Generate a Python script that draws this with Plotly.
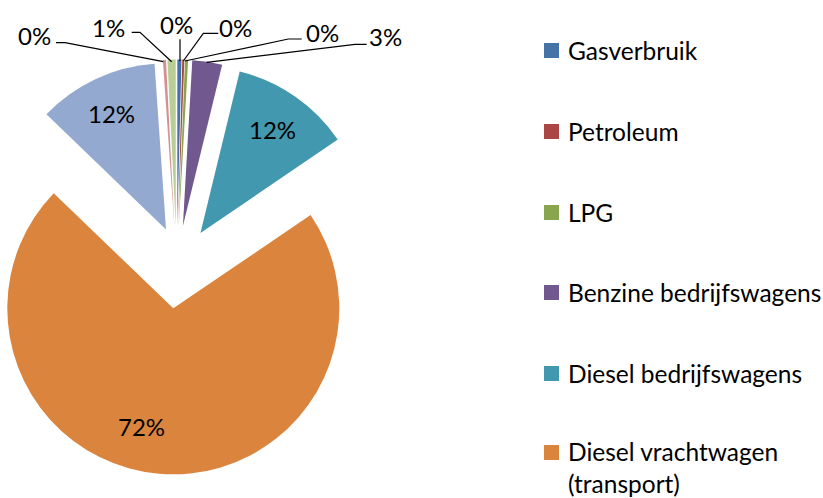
import math
import plotly.graph_objects as go

# ---- data ----
labels = ["Gasverbruik", "Petroleum", "LPG", "Benzine bedrijfswagens",
          "Diesel bedrijfswagens", "Diesel vrachtwagen (transport)",
          "Overig 1", "Overig 2", "Overig 3"]
values = [0.4, 0.2, 0.3, 2.9, 11.7, 71.7, 11.7, 0.3, 0.8]
colors = ["#4572A7", "#AA4643", "#89A54E", "#71588F", "#4198AF", "#DB843D",
          "#93A9CF", "#D19392", "#B9CD96"]
legend_labels = ["Gasverbruik", "Petroleum", "LPG", "Benzine bedrijfswagens",
                 "Diesel bedrijfswagens", "Diesel vrachtwagen<br>(transport)"]

# ---- layout constants (pixels) ----
W, H = 823, 498
R = 166.0          # pie radius
PULL = 41.5        # explosion distance
CX, CY = 176.8, 267.0
FONT = "Lato, 'Open Sans', sans-serif"
FS = 24
FS_LEG = 24.5

def fx(x):
    return x / W

def fy(y):
    return 1 - y / H

total = sum(values)
fig = go.Figure()

apex = []
mids = []
cum = 0.0
for i, v in enumerate(values):
    mid = (cum + v / 2) / total * 2 * math.pi
    cum += v
    mids.append(mid)
    ax = CX + PULL * math.sin(mid)
    ay = CY - PULL * math.cos(mid)
    ax = max(ax, R)  # keep the domain inside the paper
    apex.append((ax, ay))
    cols = ["rgba(0,0,0,0)"] * len(values)
    cols[i] = colors[i]
    fig.add_trace(go.Pie(
        labels=labels, values=values, sort=False, direction="clockwise",
        rotation=0, marker=dict(colors=cols, line=dict(width=0)),
        textinfo="none", showlegend=False, hoverinfo="label+percent",
        domain=dict(x=[fx(ax - R), fx(ax + R)], y=[fy(ay + R), fy(ay - R)]),
    ))

def pct(v):
    return f"{round(v / total * 100)}%"

annotations = []
shapes = []

# inside labels for the large slices
inside = {4: 0.76, 6: 0.77}
for i, k in inside.items():
    ax, ay = apex[i]
    x = ax + k * R * math.sin(mids[i])
    y = ay - k * R * math.cos(mids[i])
    annotations.append(dict(x=fx(x), y=fy(y), text=pct(values[i]), showarrow=False,
                            xref="paper", yref="paper", xanchor="center", yanchor="middle",
                            font=dict(family=FONT, size=FS, color="#000")))
annotations.append(dict(x=fx(141), y=fy(426), text=pct(values[5]), showarrow=False,
                        xref="paper", yref="paper", xanchor="center", yanchor="middle",
                        font=dict(family=FONT, size=FS, color="#000")))

# outside labels with leader lines for the small slices
outside = {
    7: ((34, 35.5), [(56, 42.7), (65, 42.7), (163.3, 61.7)]),
    8: ((108.5, 27), [(131.7, 32.3), (140, 32.3), (171.7, 61.7)]),
    0: ((176, 24.5), [(180, 39.3), (180, 61)]),
    1: ((235, 27.5), [(218.3, 33.3), (203.3, 33.3), (183.3, 61)]),
    2: ((322, 32.5), [(301.7, 39), (288.3, 39), (185, 61)]),
    3: ((385, 36.5), [(366.7, 44.3), (355, 44.3), (206.7, 62.3)]),
}
for i, ((tx, ty), pts) in outside.items():
    annotations.append(dict(x=fx(tx), y=fy(ty), text=pct(values[i]), showarrow=False,
                            xref="paper", yref="paper", xanchor="center", yanchor="middle",
                            font=dict(family=FONT, size=FS, color="#000")))
    path = "M " + " L ".join(f"{fx(x)},{fy(y)}" for x, y in pts)
    shapes.append(dict(type="path", path=path, xref="paper", yref="paper",
                       line=dict(color="#000", width=1.2)))

# legend (first six series only)
leg_y = [50.5, 131.5, 212.5, 292.5, 373.5, 452.5]
for j, name in enumerate(legend_labels):
    yc = leg_y[j]
    shapes.append(dict(type="rect", xref="paper", yref="paper",
                       x0=fx(544), x1=fx(559), y0=fy(yc + 7.5), y1=fy(yc - 7.5),
                       fillcolor=colors[j], line=dict(width=0)))
    nlines = name.count("<br>") + 1
    ymid = yc + (nlines - 1) * 29 / 2
    annotations.append(dict(x=fx(566), y=fy(ymid), text=name, showarrow=False,
                            xref="paper", yref="paper", xanchor="left", yanchor="middle",
                            align="left", font=dict(family=FONT, size=FS_LEG, color="#000")))

fig.update_layout(
    width=W, height=H, margin=dict(l=0, r=0, t=0, b=0),
    paper_bgcolor="white", plot_bgcolor="white",
    annotations=annotations, shapes=shapes, showlegend=False,
)
# remove the browser's default 8px page margin so the figure fills the window
fig.write_html("out.html", config={"displayModeBar": False},
               post_script="document.body.style.margin='0';")
